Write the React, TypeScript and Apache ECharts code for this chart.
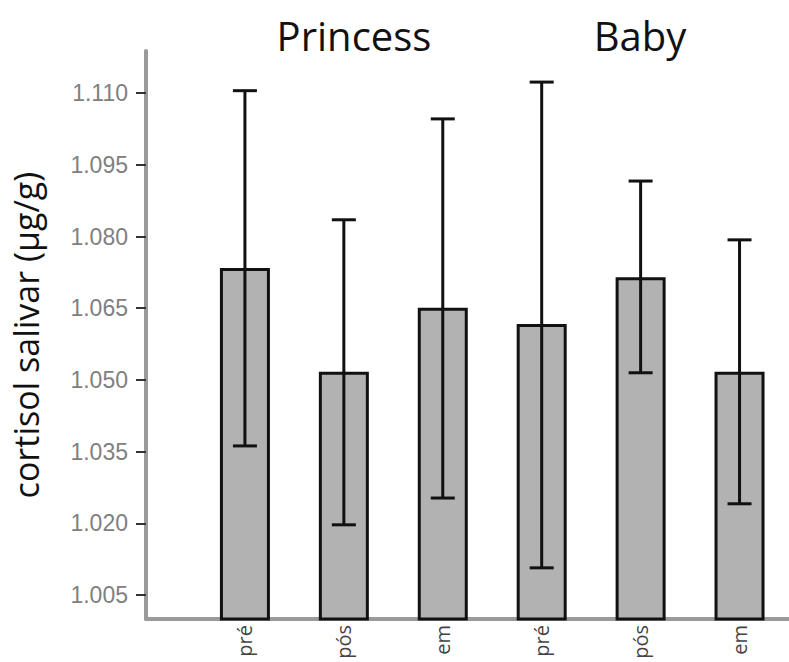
import React, { useEffect, useRef } from "react";
import * as echarts from "echarts";

const categories = ["pré", "pós", "em", "pré", "pós", "em"];
const groupTitles = ["Princess", "Baby"];
const means = [1.0734, 1.0517, 1.0651, 1.0617, 1.0715, 1.0517];
const upper = [1.1105, 1.0835, 1.1046, 1.1123, 1.0916, 1.0793];
const lower = [1.0362, 1.0197, 1.0253, 1.0107, 1.0515, 1.0241];
const yTicks = [1.005, 1.02, 1.035, 1.05, 1.065, 1.08, 1.095, 1.11];
const yTitle = "cortisol salivar (µg/g)";

export default function App() {
  const ref = useRef<HTMLDivElement>(null);
  useEffect(() => {
    if (!ref.current) return;
    const chart = echarts.init(ref.current, null, { renderer: "svg" });
    const positions = categories.map((_, i) => i + 1);
    const barData = means.map((v, i) => [positions[i], v]);
    const errData = means.map((_, i) => [positions[i], lower[i], upper[i]]);
    chart.setOption({
      animation: false,
      backgroundColor: "#ffffff",
      grid: { left: 146, right: 0, top: 51, bottom: 43 },
      graphic: [
        {
          type: "text",
          x: 354,
          y: 35,
          style: {
            text: groupTitles[0],
            font: "40px 'Open Sans'",
            fill: "#111",
            align: "center",
            verticalAlign: "middle",
          },
        },
        {
          type: "text",
          x: 640,
          y: 35,
          style: {
            text: groupTitles[1],
            font: "40px 'Open Sans'",
            fill: "#111",
            align: "center",
            verticalAlign: "middle",
          },
        },
      ],
      xAxis: {
        type: "value",
        min: 0,
        max: 6.5,
        splitLine: { show: false },
        axisLine: { show: true, onZero: false, lineStyle: { color: "#9a9a9a", width: 4 } },
        axisTick: { show: false },
        axisLabel: {
          customValues: positions,
          rotate: 90,
          margin: 6,
          fontSize: 20,
          fontFamily: "'Open Sans'",
          color: "#444",
          formatter: (v: number) => categories[Math.round(v) - 1] ?? "",
        },
      },
      yAxis: {
        type: "value",
        min: 1.0,
        max: 1.1188,
        name: yTitle,
        nameLocation: "middle",
        nameGap: 103,
        nameTextStyle: { fontSize: 34, fontFamily: "'Open Sans'", color: "#111" },
        splitLine: { show: false },
        axisLine: { show: true, lineStyle: { color: "#9a9a9a", width: 4 } },
        axisTick: {
          show: true,
          customValues: yTicks,
          length: 10,
          lineStyle: { color: "#333", width: 2 },
        },
        axisLabel: {
          customValues: yTicks,
          margin: 18,
          fontSize: 23,
          fontFamily: "'Liberation Sans'",
          color: "#808080",
          formatter: (v: number) => v.toFixed(3),
        },
      },
      series: [
        {
          type: "bar",
          data: barData,
          barWidth: 50,
          itemStyle: { color: "#b2b2b2", borderColor: "#111", borderWidth: 3 },
          z: 2,
        },
        {
          type: "custom",
          data: errData,
          z: 3,
          renderItem: (params: any, api: any) => {
            const x = api.value(0);
            const lo = api.coord([x, api.value(1)]);
            const hi = api.coord([x, api.value(2)]);
            const half = 12;
            const style = { stroke: "#111", lineWidth: 3 };
            return {
              type: "group",
              children: [
                { type: "line", shape: { x1: lo[0], y1: lo[1], x2: hi[0], y2: hi[1] }, style },
                { type: "line", shape: { x1: hi[0] - half, y1: hi[1], x2: hi[0] + half, y2: hi[1] }, style },
                { type: "line", shape: { x1: lo[0] - half, y1: lo[1], x2: lo[0] + half, y2: lo[1] }, style },
              ],
            };
          },
        },
      ],
    });
    return () => chart.dispose();
  }, []);
  return (
    <div
      ref={ref}
      style={{ position: "fixed", left: 0, top: 0, width: 789, height: 662 }}
    />
  );
}
